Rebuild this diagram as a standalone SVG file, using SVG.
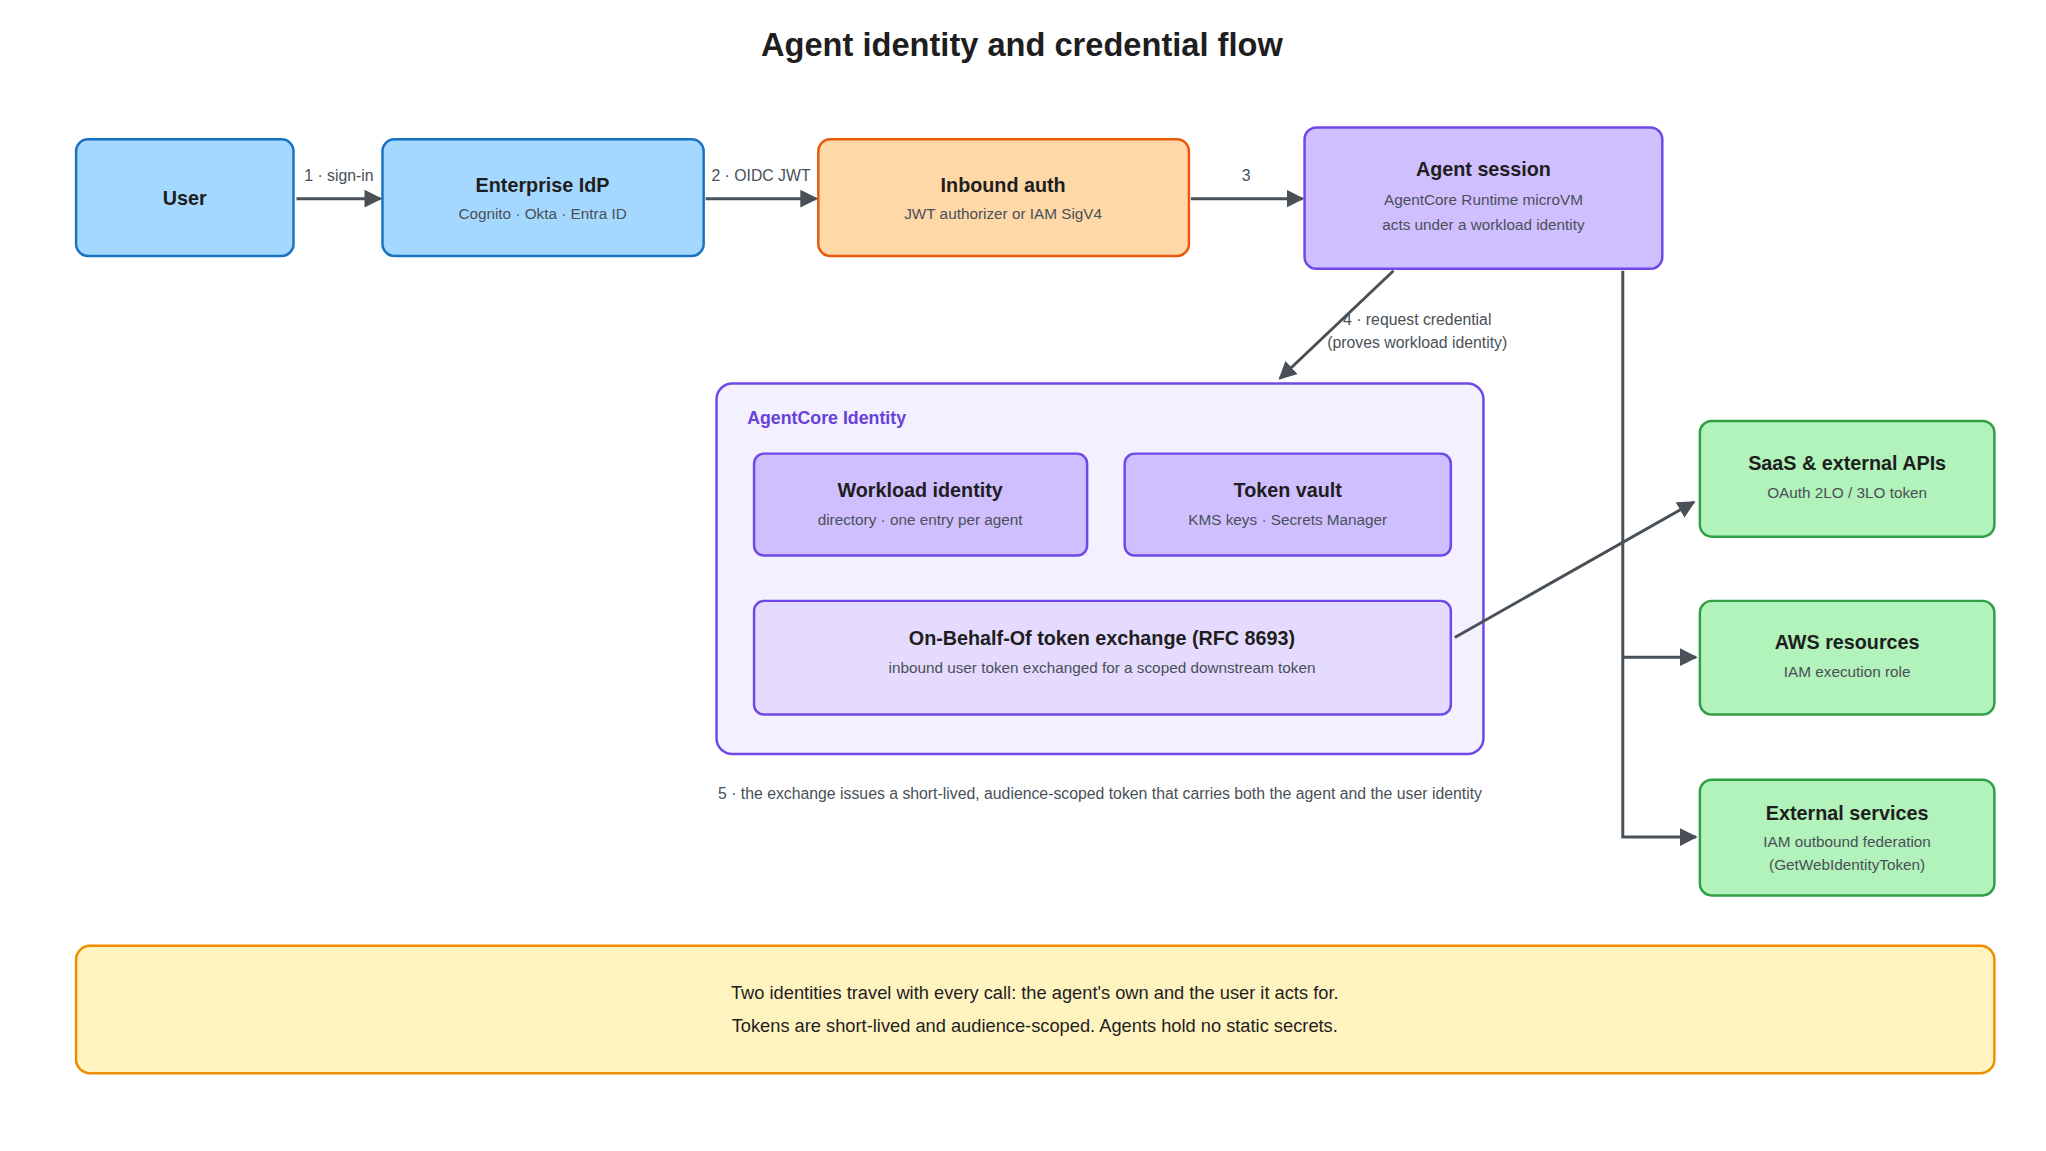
<svg xmlns="http://www.w3.org/2000/svg" width="2046" height="1151" viewBox="0 0 2046 1151">
<style>
text{font-family:"Liberation Sans",Arial,sans-serif;text-anchor:middle;fill:#1e1e1e}
.t{font-size:20px;font-weight:bold}
.s{font-size:15.5px;fill:#495057}
.l{font-size:16px;fill:#495057}
.c{fill:none;stroke:#495057;stroke-width:3}
.blue{fill:#a5d8ff;stroke:#1971c2;stroke-width:2.5}
.or{fill:#ffd8a8;stroke:#e8590c;stroke-width:2.5}
.pu{fill:#d0bfff;stroke:#7048e8;stroke-width:2.5}
.gr{fill:#b2f2bb;stroke:#2f9e44;stroke-width:2.5}
</style>
<defs><marker id="a" viewBox="0 0 10 10" refX="9" refY="5" markerWidth="6" markerHeight="6" markerUnits="strokeWidth" orient="auto"><path d="M0,0L10,5L0,10z" fill="#495057"/></marker></defs>
<rect width="2046" height="1151" fill="#fff"/>
<g transform="scale(0.9883)">
<text x="1034" y="57" style="font-size:33px;font-weight:bold">Agent identity and credential flow</text>
<g id="user"><rect class="blue" x="77" y="141" width="220" height="118" rx="12"/><text class="t" x="187" y="207">User</text></g>
<g id="idp"><rect class="blue" x="387" y="141" width="325" height="118" rx="12"/><text class="t" x="549" y="194">Enterprise IdP</text><text class="s" x="549" y="222">Cognito · Okta · Entra ID</text></g>
<g id="inbound"><rect class="or" x="828" y="141" width="375" height="118" rx="12"/><text class="t" x="1015" y="194">Inbound auth</text><text class="s" x="1015" y="222">JWT authorizer or IAM SigV4</text></g>
<g id="session"><rect class="pu" x="1320" y="129" width="362" height="143" rx="12"/><text class="t" x="1501" y="178">Agent session</text><text class="s" x="1501" y="207">AgentCore Runtime microVM</text><text class="s" x="1501" y="233">acts under a workload identity</text></g>
<g id="identity"><rect x="725" y="388" width="776" height="375" rx="16" fill="#f3f0ff" stroke="#7048e8" stroke-width="2.5"/><text x="756" y="429" style="font-size:18px;font-weight:bold;fill:#6741d9;text-anchor:start">AgentCore Identity</text></g>
<g id="workload"><rect class="pu" x="763" y="459" width="337" height="103" rx="10"/><text class="t" x="931" y="503">Workload identity</text><text class="s" x="931" y="531">directory · one entry per agent</text></g>
<g id="vault"><rect class="pu" x="1138" y="459" width="330" height="103" rx="10"/><text class="t" x="1303" y="503">Token vault</text><text class="s" x="1303" y="531">KMS keys · Secrets Manager</text></g>
<g id="obo"><rect x="763" y="608" width="705" height="115" rx="10" fill="#e5dbff" stroke="#7048e8" stroke-width="2.5"/><text class="t" x="1115" y="653">On-Behalf-Of token exchange (RFC 8693)</text><text class="s" x="1115" y="681">inbound user token exchanged for a scoped downstream token</text></g>
<g id="saas"><rect class="gr" x="1720" y="426" width="298" height="117" rx="12"/><text class="t" x="1869" y="476">SaaS &amp; external APIs</text><text class="s" x="1869" y="504">OAuth 2LO / 3LO token</text></g>
<g id="aws"><rect class="gr" x="1720" y="608" width="298" height="115" rx="12"/><text class="t" x="1869" y="657">AWS resources</text><text class="s" x="1869" y="685">IAM execution role</text></g>
<g id="ext"><rect class="gr" x="1720" y="789" width="298" height="117" rx="12"/><text class="t" x="1869" y="830">External services</text><text class="s" x="1869" y="857">IAM outbound federation</text><text class="s" x="1869" y="880">(GetWebIdentityToken)</text></g>
<g id="summary"><rect x="77" y="957" width="1941" height="129" rx="14" fill="#fff3bf" stroke="#f08c00" stroke-width="2.5"/><text x="1047" y="1011" style="font-size:18.5px">Two identities travel with every call: the agent's own and the user it acts for.</text><text x="1047" y="1044" style="font-size:18.5px">Tokens are short-lived and audience-scoped. Agents hold no static secrets.</text></g>
<g id="connectors">
<path class="c" d="M300 201H385" marker-end="url(#a)"/>
<path class="c" d="M714 201H826" marker-end="url(#a)"/>
<path class="c" d="M1205 201H1318" marker-end="url(#a)"/>
<path class="c" d="M1410 274L1295 383" marker-end="url(#a)"/>
<path class="c" d="M1642 274V847H1716" marker-end="url(#a)"/>
<path class="c" d="M1642 665H1716" marker-end="url(#a)"/>
<path class="c" d="M1472 645L1714 508" marker-end="url(#a)"/>
<text class="l" x="343" y="183">1 · sign-in</text>
<text class="l" x="770" y="183">2 · OIDC JWT</text>
<text class="l" x="1261" y="183">3</text>
<text class="l" x="1434" y="329">4 · request credential</text>
<text class="l" x="1434" y="352">(proves workload identity)</text>
<text class="l" x="1113" y="808">5 · the exchange issues a short-lived, audience-scoped token that carries both the agent and the user identity</text>
</g>
</g>
</svg>
